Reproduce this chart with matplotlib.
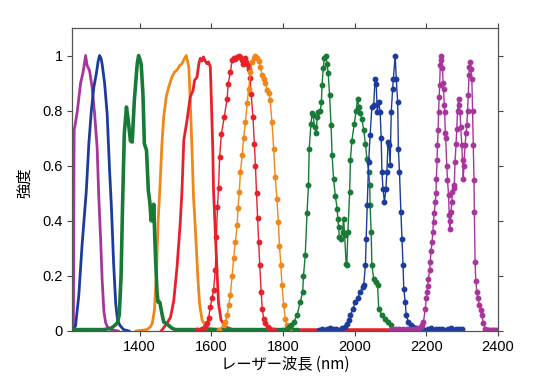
import matplotlib
matplotlib.use("Agg")
import matplotlib.pyplot as plt

plt.rcParams['font.family'] = ['Liberation Sans', 'Noto Sans CJK JP', 'DejaVu Sans']

# ---- data (wavelength nm, normalized intensity) ----
# solid curves
m1_x = [1200, 1215, 1216, 1217, 1220, 1226, 1235, 1242, 1249, 1253, 1260, 1267, 1274, 1281, 1286, 1291, 1295, 1300, 1305, 1310, 1320, 1340]
m1_y = [0.0, 0.0, 0.45, 0.73, 0.75, 0.80, 0.90, 0.94, 1.0, 0.965, 0.945, 0.886, 0.79, 0.668, 0.48, 0.33, 0.19, 0.07, 0.03, 0.015, 0.005, 0.0]

b1_x = [1205, 1215, 1221, 1230, 1239, 1245, 1251, 1258, 1265, 1272, 1279, 1284, 1288, 1292, 1295, 1302, 1309, 1316, 1321, 1327, 1333, 1338, 1345, 1355, 1370]
b1_y = [0.0, 0.0, 0.02, 0.13, 0.31, 0.41, 0.51, 0.68, 0.80, 0.886, 0.935, 0.98, 1.0, 0.99, 0.97, 0.90, 0.79, 0.58, 0.45, 0.25, 0.10, 0.04, 0.02, 0.005, 0.0]

o1_x = [1390, 1420, 1430, 1435, 1441, 1447, 1451, 1456, 1462, 1467, 1474, 1481, 1490, 1497, 1504, 1512, 1518, 1525, 1530, 1537, 1541, 1546, 1550, 1555, 1562, 1567, 1574, 1583, 1595, 1620]
o1_y = [0.0, 0.005, 0.015, 0.028, 0.075, 0.21, 0.39, 0.51, 0.68, 0.777, 0.85, 0.886, 0.922, 0.94, 0.947, 0.965, 0.97, 0.99, 1.0, 0.959, 0.838, 0.656, 0.49, 0.38, 0.2, 0.1, 0.04, 0.02, 0.01, 0.005]

r1_x = [1460, 1476, 1486, 1495, 1504, 1513, 1518, 1523, 1532, 1541, 1549, 1553, 1560, 1565, 1569, 1574, 1578, 1583, 1588, 1592, 1597, 1600, 1604, 1606, 1611, 1616, 1620, 1627, 1640, 1660, 2100]
r1_y = [0.0, 0.028, 0.05, 0.11, 0.23, 0.39, 0.51, 0.692, 0.765, 0.85, 0.874, 0.91, 0.922, 0.97, 0.99, 0.98, 0.995, 0.98, 0.97, 0.977, 0.959, 0.838, 0.656, 0.51, 0.36, 0.21, 0.1, 0.04, 0.015, 0.005, 0.005]

g1_x = [1200, 1300, 1320, 1330, 1338, 1343, 1348, 1352, 1357, 1363, 1368, 1374, 1379, 1385, 1393, 1397, 1404, 1409, 1413, 1419, 1424, 1428, 1432, 1435, 1437, 1439, 1444, 1448, 1451, 1456, 1462, 1467, 1474, 1481, 1490, 1500, 1840]
g1_y = [0.005, 0.005, 0.01, 0.02, 0.03, 0.06, 0.2, 0.45, 0.717, 0.813, 0.765, 0.69, 0.686, 0.838, 0.97, 1.0, 0.97, 0.86, 0.68, 0.656, 0.51, 0.47, 0.40, 0.455, 0.40, 0.46, 0.27, 0.148, 0.105, 0.105, 0.063, 0.033, 0.027, 0.02, 0.01, 0.005, 0.005]

# marker curves
r2_x = [1560, 1575, 1583, 1588, 1592, 1597, 1602, 1606, 1611, 1614, 1617, 1620, 1623, 1628, 1636, 1644, 1647, 1653, 1658, 1662, 1667, 1672, 1676, 1681, 1686, 1688, 1693, 1698, 1702, 1705, 1708, 1711, 1716, 1720, 1723, 1726, 1729, 1732, 1735, 1739, 1742, 1746, 1751, 1758, 1765, 1775]
r2_y = [0.005, 0.008, 0.015, 0.028, 0.046, 0.087, 0.12, 0.148, 0.22, 0.34, 0.45, 0.52, 0.63, 0.716, 0.777, 0.844, 0.898, 0.94, 0.983, 0.99, 0.987, 0.995, 1.0, 0.993, 0.983, 0.971, 0.99, 0.977, 0.965, 0.95, 0.92, 0.86, 0.777, 0.68, 0.6, 0.5, 0.41, 0.323, 0.239, 0.142, 0.081, 0.045, 0.028, 0.015, 0.008, 0.005]

o2_x = [1620, 1635, 1639, 1644, 1648, 1653, 1658, 1662, 1667, 1672, 1674, 1678, 1681, 1686, 1690, 1695, 1700, 1704, 1709, 1713, 1718, 1723, 1727, 1732, 1737, 1741, 1746, 1751, 1755, 1760, 1764, 1769, 1774, 1778, 1783, 1787, 1790, 1794, 1797, 1802, 1806, 1811, 1818]
o2_y = [0.005, 0.02, 0.033, 0.057, 0.093, 0.13, 0.2, 0.264, 0.323, 0.384, 0.445, 0.505, 0.577, 0.638, 0.7, 0.759, 0.826, 0.88, 0.94, 0.977, 0.99, 1.0, 0.99, 0.98, 0.96, 0.93, 0.915, 0.9, 0.875, 0.865, 0.84, 0.76, 0.66, 0.56, 0.48, 0.396, 0.31, 0.239, 0.166, 0.093, 0.045, 0.02, 0.008]

g2_x = [1800, 1810, 1816, 1822, 1830, 1839, 1848, 1855, 1857, 1862, 1867, 1871, 1873, 1878, 1881, 1884, 1888, 1893, 1895, 1899, 1904, 1907, 1909, 1912, 1915, 1919, 1923, 1926, 1930, 1934, 1937, 1941, 1946, 1951, 1953, 1955, 1957, 1962, 1966, 1969, 1972, 1976, 1978, 1981, 1986, 1988, 1992, 1999, 2004, 2008, 2012, 2016, 2020, 2025, 2030, 2034, 2039, 2042, 2043, 2046, 2048, 2053, 2059, 2064, 2067, 2076, 2085, 2094, 2102]
g2_y = [0.005, 0.008, 0.015, 0.02, 0.033, 0.057, 0.105, 0.142, 0.2, 0.275, 0.43, 0.53, 0.662, 0.753, 0.79, 0.785, 0.74, 0.717, 0.777, 0.795, 0.8, 0.83, 0.892, 0.953, 0.99, 1.0, 0.971, 0.935, 0.856, 0.747, 0.638, 0.553, 0.49, 0.444, 0.408, 0.378, 0.341, 0.335, 0.36, 0.408, 0.347, 0.245, 0.239, 0.36, 0.505, 0.62, 0.69, 0.753, 0.8, 0.844, 0.813, 0.79, 0.771, 0.73, 0.68, 0.626, 0.577, 0.53, 0.456, 0.36, 0.239, 0.19, 0.178, 0.166, 0.081, 0.057, 0.045, 0.033, 0.02]

b2_x = [1900, 1908, 1916, 1924, 1932, 1940, 1948, 1956, 1964, 1972, 1978, 1983, 1988, 1995, 2002, 2008, 2016, 2022, 2025, 2030, 2032, 2035, 2039, 2043, 2048, 2053, 2057, 2060, 2063, 2067, 2071, 2074, 2076, 2079, 2083, 2087, 2090, 2093, 2096, 2099, 2102, 2106, 2108, 2113, 2116, 2120, 2122, 2125, 2129, 2132, 2135, 2137, 2141, 2144, 2150, 2158, 2164, 2172, 2180, 2188, 2196, 2204, 2212, 2220, 2228, 2236, 2244, 2252, 2260, 2268, 2276, 2284, 2292, 2300]
b2_y = [0.005, 0.008, 0.004, 0.007, 0.01, 0.006, 0.008, 0.005, 0.01, 0.015, 0.025, 0.04, 0.057, 0.08, 0.105, 0.12, 0.142, 0.16, 0.166, 0.239, 0.335, 0.456, 0.614, 0.71, 0.813, 0.82, 0.916, 0.898, 0.795, 0.832, 0.795, 0.699, 0.577, 0.517, 0.468, 0.517, 0.577, 0.686, 0.674, 0.602, 0.795, 0.88, 0.916, 1.0, 0.916, 0.832, 0.662, 0.577, 0.432, 0.335, 0.239, 0.154, 0.105, 0.057, 0.033, 0.02, 0.015, 0.01, 0.006, 0.008, 0.004, 0.007, 0.01, 0.005, 0.008, 0.006, 0.009, 0.004, 0.007, 0.01, 0.005, 0.008, 0.006, 0.009]

p2_x = [2100, 2105, 2110, 2115, 2120, 2125, 2130, 2135, 2140, 2145, 2150, 2155, 2160, 2165, 2170, 2175, 2180, 2184, 2188, 2192, 2197, 2200, 2202, 2204, 2206, 2209, 2211, 2213, 2216, 2218, 2220, 2222, 2225, 2227, 2228, 2230, 2231, 2233, 2234, 2236, 2237, 2239, 2241, 2242, 2245, 2247, 2248, 2250, 2251, 2253, 2254, 2257, 2259, 2262, 2264, 2265, 2267, 2269, 2271, 2273, 2276, 2278, 2280, 2283, 2285, 2287, 2290, 2292, 2294, 2296, 2299, 2301, 2303, 2305, 2308, 2311, 2313, 2315, 2317, 2319, 2320, 2322, 2324, 2327, 2329, 2331, 2333, 2334, 2336, 2338, 2341, 2344, 2348, 2352, 2355, 2359, 2364, 2368, 2372, 2376, 2380, 2385, 2390, 2395, 2400]
p2_y = [0.005, 0.006, 0.004, 0.006, 0.005, 0.006, 0.004, 0.006, 0.005, 0.006, 0.005, 0.006, 0.005, 0.007, 0.006, 0.008, 0.01, 0.015, 0.022, 0.033, 0.081, 0.12, 0.142, 0.165, 0.19, 0.22, 0.25, 0.29, 0.323, 0.36, 0.396, 0.43, 0.468, 0.5, 0.553, 0.62, 0.674, 0.73, 0.795, 0.85, 0.892, 0.965, 1.0, 0.985, 0.953, 0.9, 0.88, 0.82, 0.795, 0.717, 0.699, 0.6, 0.55, 0.493, 0.42, 0.372, 0.4, 0.432, 0.47, 0.505, 0.52, 0.53, 0.614, 0.68, 0.735, 0.8, 0.844, 0.82, 0.795, 0.74, 0.674, 0.62, 0.553, 0.6, 0.674, 0.72, 0.747, 0.8, 0.856, 0.93, 0.96, 0.977, 0.95, 0.916, 0.8, 0.674, 0.55, 0.432, 0.25, 0.18, 0.142, 0.12, 0.093, 0.075, 0.057, 0.03, 0.009, 0.005, 0.005, 0.005, 0.004, 0.005, 0.005, 0.004, 0.005]

x_ticks = [1400, 1600, 1800, 2000, 2200, 2400]
y_ticks = [0, 0.2, 0.4, 0.6, 0.8, 1]
y_tick_labels = ['0', '0.2', '0.4', '0.6', '0.8', '1']

MAG = '#a8359c'
BLU = '#1b3c9c'
GRN = '#177a36'
ORA = '#f0871a'
RED = '#e5222a'

fig = plt.figure(figsize=(5.5, 3.78), dpi=100)
ax = fig.add_axes([72/550, 1 - 331/378, 426/550, 303/378])

lw_s = 2.0
ax.plot(m1_x, m1_y, color=MAG, lw=lw_s)
ax.plot(b1_x, b1_y, color=BLU, lw=lw_s)
ax.plot(o1_x, o1_y, color=ORA, lw=lw_s)
ax.plot(r1_x, r1_y, color=RED, lw=lw_s)
ax.plot(g1_x, g1_y, color=GRN, lw=2.6)

mk = dict(marker='o', markersize=3.2, lw=1.0)
ax.plot(r2_x, r2_y, color=RED, **mk)
ax.plot(o2_x, o2_y, color=ORA, **mk)
ax.plot(g2_x, g2_y, color=GRN, **mk)
ax.plot(b2_x, b2_y, color=BLU, **mk)
ax.plot(p2_x, p2_y, color=MAG, **mk)

ax.set_xlim(1211, 2400)
ax.set_ylim(0, 1.1)
ax.set_xticks(x_ticks)
ax.set_yticks(y_ticks)
ax.set_yticklabels(y_tick_labels)
ax.tick_params(direction='out', length=3.5, width=0.8, color='#444444',
               labelsize=10.5, top=True, right=True, pad=3)
for s in ax.spines.values():
    s.set_color('#555555')
    s.set_linewidth(0.9)

ax.set_xlabel('レーザー波長 (nm)', fontsize=11,
              family=['Noto Sans CJK JP', 'Liberation Sans'], labelpad=1)
ax.set_ylabel('強度', fontsize=11, family=['Noto Sans CJK JP', 'Liberation Sans'])
ax.yaxis.set_label_coords(-0.092, 0.49)

fig.savefig('out.png', dpi=100)
